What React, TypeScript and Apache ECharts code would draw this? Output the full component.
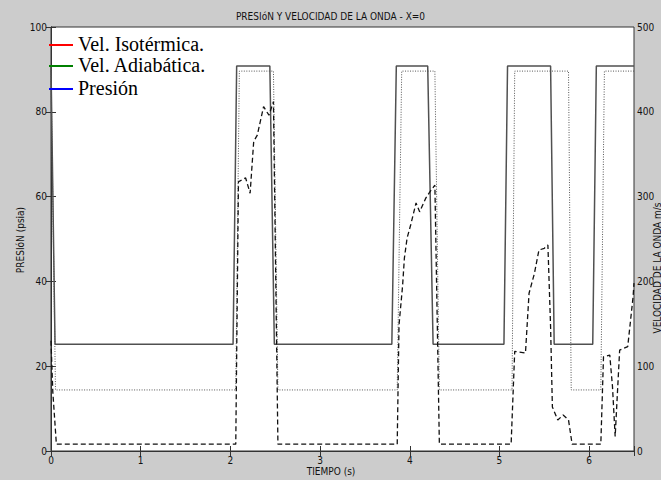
import React, { useEffect, useRef } from "react";
import * as echarts from "echarts";

// Vel. Isotérmica (m/s, right axis) – solid
const isoT = [0, 0.045, 2.03, 2.07, 2.44, 2.49, 3.8, 3.85, 4.2, 4.26, 5.05, 5.09, 5.57, 5.61, 6.04, 6.08, 6.5];
const isoV = [454, 126, 126, 454, 454, 126, 126, 454, 454, 126, 126, 454, 454, 126, 126, 454, 454];

// Vel. Adiabática (m/s, right axis) – dotted
const adiT = [0, 0.05, 2.06, 2.1, 2.48, 2.53, 3.86, 3.91, 4.28, 4.33, 5.14, 5.17, 5.77, 5.8, 6.13, 6.17, 6.5];
const adiV = [448, 72, 72, 448, 448, 72, 72, 448, 448, 72, 72, 448, 448, 72, 72, 448, 448];

// Presión (psia, left axis) – dashed
const preT = [0, 0.02, 0.06, 2.06, 2.09, 2.17, 2.22, 2.26, 2.3, 2.37, 2.43, 2.48, 2.53, 3.86, 3.88, 3.92, 3.94, 3.97, 4.01, 4.07, 4.11, 4.18, 4.23, 4.28, 4.33, 5.13, 5.17, 5.29, 5.33, 5.39, 5.44, 5.5, 5.54, 5.57, 5.59, 5.65, 5.71, 5.77, 5.81, 6.13, 6.16, 6.23, 6.26, 6.29, 6.34, 6.43, 6.49, 6.5];
const preV = [26, 14, 1.6, 1.6, 63.5, 64.4, 60.8, 73, 74.5, 81.2, 79.2, 82.4, 1.6, 1.6, 29.7, 39, 45.5, 50.2, 53.3, 58.5, 56.4, 59.7, 61.3, 62.7, 1.6, 1.6, 23.5, 23.1, 37.2, 41.9, 47.4, 47.8, 48.6, 29.3, 10.4, 7.3, 8.5, 7.3, 1.6, 1.6, 22.2, 22.6, 15.2, 3.4, 23.8, 24.6, 36.4, 39.6];

const legendNames = ["Vel. Isotérmica.", "Vel. Adiabática.", "Presión"];
const legendColors = ["#ff0000", "#008000", "#0000ff"];

const title = "PRESIóN Y VELOCIDAD DE LA ONDA - X=0";
const xName = "TIEMPO (s)";
const yLeftName = "PRESIóN (psia)";
const yRightName = "VELOCIDAD DE LA ONDA m/s";

const SANS = "'Liberation Sans Narrow', 'DejaVu Sans Condensed', 'Liberation Sans', Arial, sans-serif";
const SERIF = "'Liberation Serif', 'Times New Roman', serif";

const zip = (a: number[], b: number[]) => a.map((t, i) => [t, b[i]]);

export default function App() {
  const ref = useRef<HTMLDivElement>(null);
  useEffect(() => {
    if (!ref.current) return;
    const chart = echarts.init(ref.current, null, { renderer: "svg" });
    const axisCommon = {
      axisLine: { show: true, lineStyle: { color: "#333", width: 1 } },
      axisTick: { show: true, inside: true, length: 5, lineStyle: { color: "#333" } },
      splitLine: { show: false },
      axisLabel: { color: "#111", fontSize: 10, fontFamily: SANS, margin: 4 },
    };
    chart.setOption({
      animation: false,
      backgroundColor: "#cccccc",
      grid: {
        left: 51, right: 27, top: 27, bottom: 29,
        show: true, backgroundColor: "#ffffff", borderColor: "#333", borderWidth: 1,
      },
      xAxis: [
        {
          type: "value", min: 0, max: 6.5, interval: 1, position: "bottom",
          ...axisCommon,
          axisLabel: {
            ...axisCommon.axisLabel,
            formatter: (v: number) => (Number.isInteger(v) ? String(v) : ""),
          },
        },
        {
          type: "value", min: 0, max: 6.5, interval: 1, position: "top",
          ...axisCommon,
          axisLabel: { show: false },
        },
      ],
      yAxis: [
        { type: "value", min: 0, max: 100, interval: 20, position: "left", ...axisCommon },
        {
          type: "value", min: 0, max: 500, interval: 100, position: "right",
          ...axisCommon,
          axisLabel: { ...axisCommon.axisLabel, margin: 3 },
        },
      ],
      series: [
        {
          name: legendNames[0], type: "line", xAxisIndex: 0, yAxisIndex: 1,
          data: zip(isoT, isoV), showSymbol: false,
          lineStyle: { color: "#505050", width: 1.5, type: "solid" },
        },
        {
          name: legendNames[1], type: "line", xAxisIndex: 0, yAxisIndex: 1,
          data: zip(adiT, adiV), showSymbol: false,
          lineStyle: { color: "#555555", width: 1, type: [1, 1.5] },
        },
        {
          name: legendNames[2], type: "line", xAxisIndex: 0, yAxisIndex: 0,
          data: zip(preT, preV), showSymbol: false,
          lineStyle: { color: "#111111", width: 1.3, type: [5, 3] },
        },
      ],
      graphic: [
        {
          type: "text", left: "center", x: 0, top: 11,
          style: { text: title, fontSize: 10, fontFamily: SANS, fill: "#111" },
        },
        {
          type: "text", x: 331, y: 471,
          style: { text: xName, fontSize: 10, fontFamily: SANS, fill: "#111", align: "center", verticalAlign: "middle" },
        },
        {
          type: "text", x: 20, y: 240, rotation: Math.PI / 2,
          style: { text: yLeftName, fontSize: 10, fontFamily: SANS, fill: "#111", align: "center", verticalAlign: "middle" },
        },
        {
          type: "text", x: 657, y: 268, rotation: Math.PI / 2,
          style: { text: yRightName, fontSize: 10, fontFamily: SANS, fill: "#111", align: "center", verticalAlign: "middle" },
        },
        {
          type: "rect", z: 100,
          shape: { x: 53, y: 30, width: 165, height: 70 },
          style: { fill: "#ffffff" },
        },
        ...legendNames.flatMap((name, i) => {
          const ly = [45, 66, 89][i];
          return [
            {
              type: "line", z: 101,
              shape: { x1: 49, y1: ly, x2: 73, y2: ly },
              style: { stroke: legendColors[i], lineWidth: 2 },
            },
            {
              type: "text", z: 101, x: 78, y: ly - 1,
              style: { text: name, fontSize: 20, fontFamily: SERIF, fill: "#000", verticalAlign: "middle" },
            },
          ];
        }),
      ],
    });
    return () => chart.dispose();
  }, []);
  return <div ref={ref} style={{ position: "fixed", left: 0, top: 0, width: 661, height: 480 }} />;
}
